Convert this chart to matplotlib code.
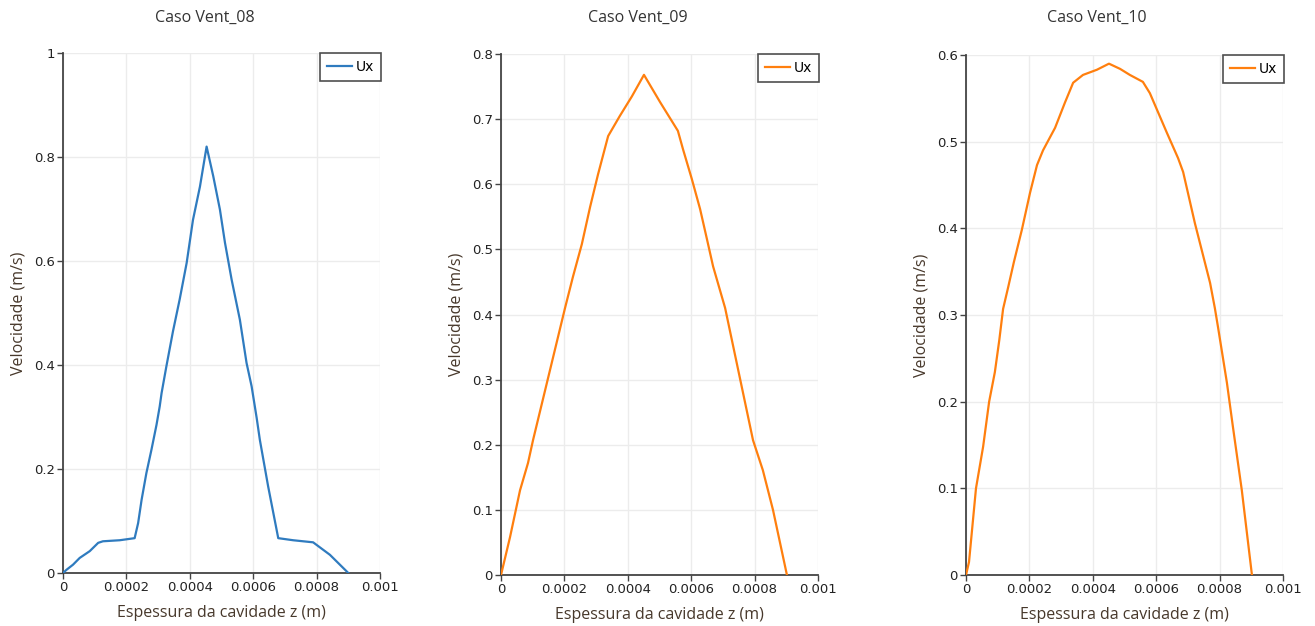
import matplotlib
matplotlib.use("Agg")
import matplotlib.pyplot as plt
from matplotlib.ticker import FixedLocator, FixedFormatter

# ---------------- data ----------------
titles = ["Caso Vent_08", "Caso Vent_09", "Caso Vent_10"]
series_name = "Ux"

z08 = [0.0, 0.0000107, 0.0000316, 0.0000527, 0.0000843, 0.000111, 0.000126,
       0.000179, 0.000226, 0.000237, 0.000248, 0.000263, 0.000279,
       0.000295, 0.000305, 0.000311, 0.000326, 0.000347, 0.000368, 0.000390,
       0.000410, 0.000432, 0.000453, 0.000474, 0.000495, 0.000511, 0.000532,
       0.000558, 0.000579, 0.000595, 0.000611, 0.000621, 0.000647, 0.000679,
       0.000726, 0.000789, 0.000842, 0.000900]
u08 = [0.0, 0.006, 0.016, 0.029, 0.042, 0.058, 0.061,
       0.063, 0.067, 0.096, 0.141, 0.192, 0.237,
       0.285, 0.320, 0.346, 0.397, 0.465, 0.526, 0.596,
       0.679, 0.743, 0.820, 0.763, 0.699, 0.635, 0.564,
       0.487, 0.404, 0.359, 0.298, 0.256, 0.167, 0.067,
       0.063, 0.059, 0.035, 0.0]

z09 = [0.0, 0.0000284, 0.0000600, 0.0000852, 0.000101, 0.000202, 0.000227,
       0.000255, 0.000281, 0.000306, 0.000338, 0.000375, 0.000413, 0.000451,
       0.000502, 0.000558, 0.000574, 0.000602, 0.000628, 0.000650, 0.000669,
       0.000688, 0.000707, 0.000795, 0.000826, 0.000858, 0.000902]
u09 = [0.0, 0.058, 0.130, 0.172, 0.207, 0.410, 0.458,
       0.508, 0.565, 0.615, 0.674, 0.705, 0.735, 0.768,
       0.726, 0.682, 0.654, 0.608, 0.562, 0.515, 0.474,
       0.442, 0.410, 0.207, 0.161, 0.100, 0.0]

z10 = [0.0, 0.0000095, 0.0000315, 0.0000540, 0.0000730, 0.0000910, 0.000105,
       0.000117, 0.000133, 0.000151, 0.000176, 0.000202, 0.000224, 0.000243,
       0.000281, 0.000312, 0.000338, 0.000369, 0.000413, 0.000451, 0.000486,
       0.000517, 0.000558, 0.000580, 0.000634, 0.000669, 0.000685, 0.000722,
       0.000738, 0.000770, 0.000785, 0.000795, 0.000823, 0.000842, 0.000870,
       0.000902]
u10 = [0.0, 0.015, 0.100, 0.148, 0.200, 0.234, 0.271,
       0.307, 0.332, 0.361, 0.398, 0.441, 0.473, 0.490,
       0.516, 0.545, 0.568, 0.577, 0.583, 0.590, 0.584,
       0.577, 0.569, 0.556, 0.510, 0.481, 0.465, 0.406,
       0.383, 0.337, 0.308, 0.286, 0.222, 0.171, 0.098,
       0.0]

x_ticks = [0, 0.0002, 0.0004, 0.0006, 0.0008, 0.001]
x_ticklabels = ["0", "0.0002", "0.0004", "0.0006", "0.0008", "0.001"]
y_ticks_08 = [0, 0.2, 0.4, 0.6, 0.8, 1.0]
y_ticklabels_08 = ["0", "0.2", "0.4", "0.6", "0.8", "1"]
y_ticks_09 = [0, 0.1, 0.2, 0.3, 0.4, 0.5, 0.6, 0.7, 0.8]
y_ticklabels_09 = ["0", "0.1", "0.2", "0.3", "0.4", "0.5", "0.6", "0.7", "0.8"]
y_ticks_10 = [0, 0.1, 0.2, 0.3, 0.4, 0.5, 0.6]
y_ticklabels_10 = ["0", "0.1", "0.2", "0.3", "0.4", "0.5", "0.6"]

xlabel = "Espessura da cavidade z (m)"
ylabel = "Velocidade (m/s)"

# ---------------- styling ----------------
W, H = 1315, 626
fig = plt.figure(figsize=(W / 100, H / 100), dpi=100)
fig.patch.set_facecolor("white")

label_font = "Open Sans"
label_color = "#47382b"
title_color = "#333333"
tick_color = "#222222"

panels = [
    dict(left=63, bottom=573, top=53, z=z08, u=u08, color="#2f7bbf",
         yt=y_ticks_08, ytl=y_ticklabels_08, ymax=1.0, title_x=205, title=titles[0]),
    dict(left=501, bottom=575, top=54, z=z09, u=u09, color="#ff7f0e",
         yt=y_ticks_09, ytl=y_ticklabels_09, ymax=0.8, title_x=638, title=titles[1]),
    dict(left=966, bottom=575, top=55, z=z10, u=u10, color="#ff7f0e",
         yt=y_ticks_10, ytl=y_ticklabels_10, ymax=0.6, title_x=1097, title=titles[2]),
]
axw = 317

for p in panels:
    ax = fig.add_axes([p["left"] / W, (H - p["bottom"]) / H, axw / W,
                       (p["bottom"] - p["top"]) / H])
    ax.plot(p["z"], p["u"], color=p["color"], lw=1.6, label=series_name,
            solid_joinstyle="round", zorder=3)
    ax.set_xlim(0, 0.001)
    ax.set_ylim(0, p["ymax"])
    ax.xaxis.set_major_locator(FixedLocator(x_ticks))
    ax.xaxis.set_major_formatter(FixedFormatter(x_ticklabels))
    ax.yaxis.set_major_locator(FixedLocator(p["yt"]))
    ax.yaxis.set_major_formatter(FixedFormatter(p["ytl"]))
    ax.grid(True, color="#ececec", lw=1.0, zorder=0)
    ax.set_axisbelow(True)
    for s in ("top", "right"):
        ax.spines[s].set_visible(False)
    for s in ("left", "bottom"):
        ax.spines[s].set_color("#444444")
        ax.spines[s].set_linewidth(1.3)
    ax.tick_params(axis="both", direction="out", length=4, width=1.0,
                   color="#444444", labelsize=9.5, labelcolor=tick_color, pad=2)
    for lab in ax.get_xticklabels() + ax.get_yticklabels():
        lab.set_family("DejaVu Sans")
    ax.set_xlabel(xlabel, fontsize=11.5, family=label_font, color=label_color,
                  labelpad=8)
    ax.set_ylabel(ylabel, fontsize=11.5, family=label_font, color=label_color,
                  labelpad=5)
    leg = ax.legend(loc="upper right", bbox_to_anchor=(1.003, 1.0),
                    frameon=True, fancybox=False,
                    handlelength=1.8, handletextpad=0.25, borderpad=0.5,
                    borderaxespad=0.0,
                    prop={"family": "DejaVu Sans", "size": 10})
    leg.get_frame().set_edgecolor("#222222")
    leg.get_frame().set_linewidth(1.2)
    fig.text(p["title_x"] / W, 1 - 18 / H, p["title"], ha="center", va="center",
             fontsize=11.5, family=label_font, color=title_color)

fig.savefig("out.png", dpi=100, facecolor="white")
